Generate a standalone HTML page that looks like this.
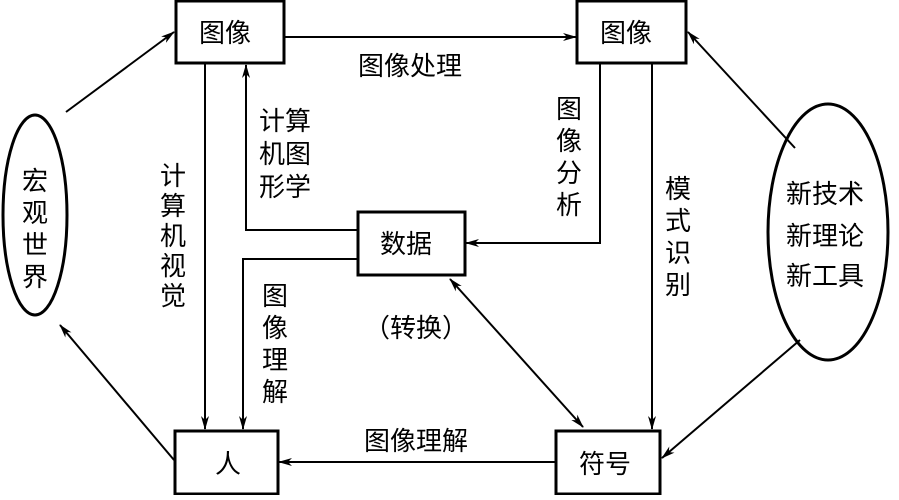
<!DOCTYPE html><html><head><style>body{margin:0;background:#fff}svg text{font-family:"Liberation Sans","Noto Sans CJK SC",sans-serif;font-size:26px;fill:#000}</style></head><body>
<svg width="899" height="495" viewBox="0 0 899 495">
<defs><marker id="a" markerWidth="14" markerHeight="8" refX="13" refY="4" orient="auto" markerUnits="userSpaceOnUse"><path d="M0,0L14,4L0,8L4,4Z" fill="#000"/></marker>
<marker id="b" markerWidth="14" markerHeight="8" refX="1" refY="4" orient="auto" markerUnits="userSpaceOnUse"><path d="M14,0L0,4L14,8L10,4Z" fill="#000"/></marker></defs>
<g fill="none" stroke="#000" stroke-width="2">
<line x1="284" y1="37" x2="576" y2="37" marker-end="url(#a)"/>
<line x1="205" y1="64" x2="205" y2="429" marker-end="url(#a)"/>
<polyline points="357,230 246,230 246,65" marker-end="url(#a)"/>
<polyline points="357,259 243,259 243,429" marker-end="url(#a)"/>
<polyline points="600,64 600,243 466,243" marker-end="url(#a)"/>
<line x1="652" y1="64" x2="652" y2="429" marker-end="url(#a)"/>
<line x1="450" y1="279" x2="583" y2="427" marker-start="url(#b)" marker-end="url(#a)"/>
<line x1="555" y1="462" x2="279" y2="462" marker-end="url(#a)"/>
<line x1="174" y1="460" x2="60" y2="325" marker-end="url(#a)"/>
<line x1="66" y1="112" x2="174" y2="32" marker-end="url(#a)"/>
<line x1="795" y1="148" x2="688" y2="32" marker-end="url(#a)"/>
<line x1="800" y1="340" x2="662" y2="458" marker-end="url(#a)"/>
<g stroke-width="3">
<rect x="176" y="1" width="108" height="62"/>
<rect x="577" y="1" width="109" height="62"/>
<rect x="358" y="212" width="107" height="63"/>
<rect x="175" y="431" width="103" height="63"/>
<rect x="556" y="431" width="104" height="63"/>
<ellipse cx="35" cy="215" rx="32" ry="100"/>
<ellipse cx="828" cy="232" rx="60" ry="128"/>
</g></g>
<text x="199" y="42">图像</text><text x="600" y="42">图像</text>
<text x="380" y="253">数据</text><text x="215" y="473">人</text><text x="579" y="473">符号</text>
<text x="358" y="75">图像处理</text><text x="364" y="450">图像理解</text>
<text x="364" y="337">（转换）</text>
<g><text x="160" y="185">计</text><text x="160" y="215">算</text><text x="160" y="245">机</text><text x="160" y="275">视</text><text x="160" y="305">觉</text></g>
<text x="259" y="130">计算</text><text x="259" y="163">机图</text><text x="259" y="196">形学</text>
<g><text x="262" y="305">图</text><text x="262" y="337">像</text><text x="262" y="369">理</text><text x="262" y="401">解</text></g>
<g><text x="556" y="118">图</text><text x="556" y="150">像</text><text x="556" y="182">分</text><text x="556" y="214">析</text></g>
<g><text x="665" y="198">模</text><text x="665" y="230">式</text><text x="665" y="262">识</text><text x="665" y="294">别</text></g>
<g><text x="22" y="190">宏</text><text x="22" y="222">观</text><text x="22" y="254">世</text><text x="22" y="286">界</text></g>
<text x="786" y="203">新技术</text><text x="786" y="245">新理论</text><text x="786" y="285">新工具</text>
</svg></body></html>
